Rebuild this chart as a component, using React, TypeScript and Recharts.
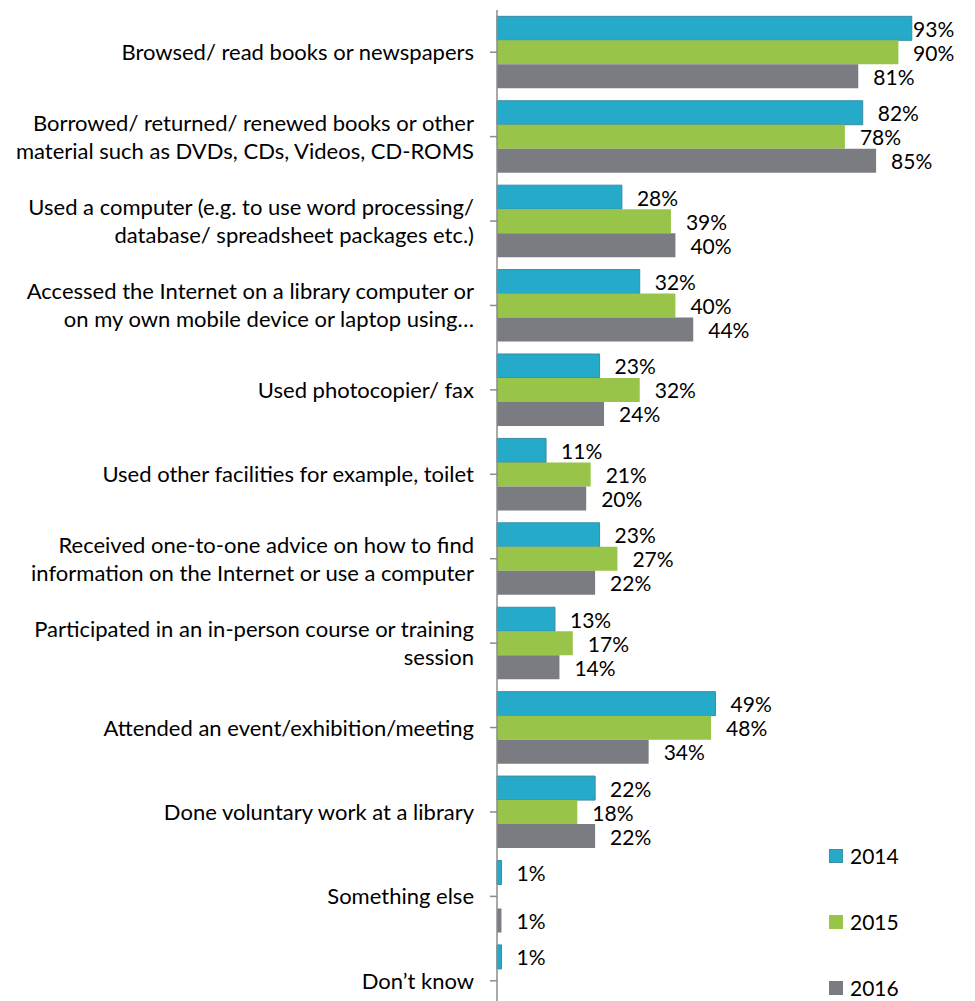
import React from "react";
import { BarChart, Bar, XAxis, YAxis, Legend, LabelList } from "recharts";

const categories = [
  "Browsed/ read books or newspapers",
  "Borrowed/ returned/ renewed books or other\nmaterial such as DVDs, CDs, Videos, CD-ROMS",
  "Used a computer (e.g. to use word processing/\ndatabase/ spreadsheet packages etc.)",
  "Accessed the Internet on a library computer or\non my own mobile device or laptop using…",
  "Used photocopier/ fax",
  "Used other facilities for example, toilet",
  "Received one-to-one advice on how to find\ninformation on the Internet or use a computer",
  "Participated in an in-person course or training\nsession",
  "Attended an event/exhibition/meeting",
  "Done voluntary work at a library",
  "Something else",
  "Don’t know",
];
const series2014 = [93, 82, 28, 32, 23, 11, 23, 13, 49, 22, 1, 1];
const series2015 = [90, 78, 39, 40, 32, 21, 27, 17, 48, 18, null, null];
const series2016 = [81, 85, 40, 44, 24, 20, 22, 14, 34, 22, 1, null];
const seriesNames = ["2014", "2015", "2016"];

const COLORS = ["#26AAC9", "#97C449", "#7A7C81"];
const STROKES = ["#3B8BA3", "none", "none"];
const FONT = "Lato, 'Open Sans', sans-serif";
const FS = 22;
const FS_VAL = 21;

const data = categories.map((c, i) => ({
  name: c,
  y2014: series2014[i],
  y2015: series2015[i],
  y2016: series2016[i],
}));

const LABEL_MAX_X = 905;

const ValueLabel = (props: any) => {
  const { x, y, width, height, value } = props;
  if (value === null || value === undefined) return null;
  const lx = Math.min(x + width + 15, LABEL_MAX_X);
  return (
    <text
      x={lx}
      y={y + height / 2}
      fontFamily={FONT}
      fontSize={FS_VAL}
      fill="#000"
      dominantBaseline="central"
      textAnchor="start"
    >
      {value}%
    </text>
  );
};

const CategoryTick = (props: any) => {
  const { x, y, payload } = props;
  const lines = String(payload.value).split("\n");
  const lh = 28;
  const start = y - 1 - ((lines.length - 1) * lh) / 2;
  return (
    <text
      x={x}
      y={start}
      fontFamily={FONT}
      fontSize={FS}
      fill="#000"
      textAnchor="end"
      dominantBaseline="central"
    >
      {lines.map((l, i) => (
        <tspan key={i} x={x} y={start + i * lh} dominantBaseline="central">
          {l}
        </tspan>
      ))}
    </text>
  );
};

const LegendContent = (props: any) => {
  const { payload } = props;
  return (
    <div style={{ fontFamily: FONT, fontSize: FS_VAL, color: "#000", lineHeight: "22px" }}>
      {(payload || []).map((p: any, i: number) => (
        <div
          key={i}
          style={{ display: "flex", alignItems: "center", height: 22, marginBottom: 44 }}
        >
          <span
            style={{
              display: "inline-block",
              width: 14,
              height: 14,
              boxSizing: "border-box",
              background: COLORS[i],
              border: i === 0 ? `1px solid ${STROKES[0]}` : "none",
              marginRight: 7,
            }}
          />
          <span>{p.value}</span>
        </div>
      ))}
    </div>
  );
};

export default function App() {
  return (
    <div style={{ width: 967, height: 993, overflow: "hidden" }}>
      <BarChart
        width={967}
        height={1020}
        data={data}
        layout="vertical"
        margin={{ top: 2, right: 32, bottom: 5, left: 0 }}
        barCategoryGap="7.5%"
        barGap={0}
      >
        <XAxis type="number" domain={[0, 100]} hide />
        <YAxis
          type="category"
          dataKey="name"
          width={489}
          interval={0}
          tick={<CategoryTick />}
          tickSize={7}
          tickMargin={16}
          axisLine={{ stroke: "#8C8C8C", strokeWidth: 1.5 }}
          tickLine={{ stroke: "#8C8C8C", strokeWidth: 1.5 }}
        />
        <Legend
          layout="vertical"
          align="center"
          verticalAlign="middle"
          content={<LegendContent />}
          wrapperStyle={{ left: 821, top: 837, width: 120, height: 160 }}
        />
        <Bar dataKey="y2014" name={seriesNames[0]} fill={COLORS[0]} stroke={STROKES[0]} strokeWidth={1} isAnimationActive={false}>
          <LabelList dataKey="y2014" content={<ValueLabel />} />
        </Bar>
        <Bar dataKey="y2015" name={seriesNames[1]} fill={COLORS[1]} isAnimationActive={false}>
          <LabelList dataKey="y2015" content={<ValueLabel />} />
        </Bar>
        <Bar dataKey="y2016" name={seriesNames[2]} fill={COLORS[2]} isAnimationActive={false}>
          <LabelList dataKey="y2016" content={<ValueLabel />} />
        </Bar>
      </BarChart>
    </div>
  );
}
